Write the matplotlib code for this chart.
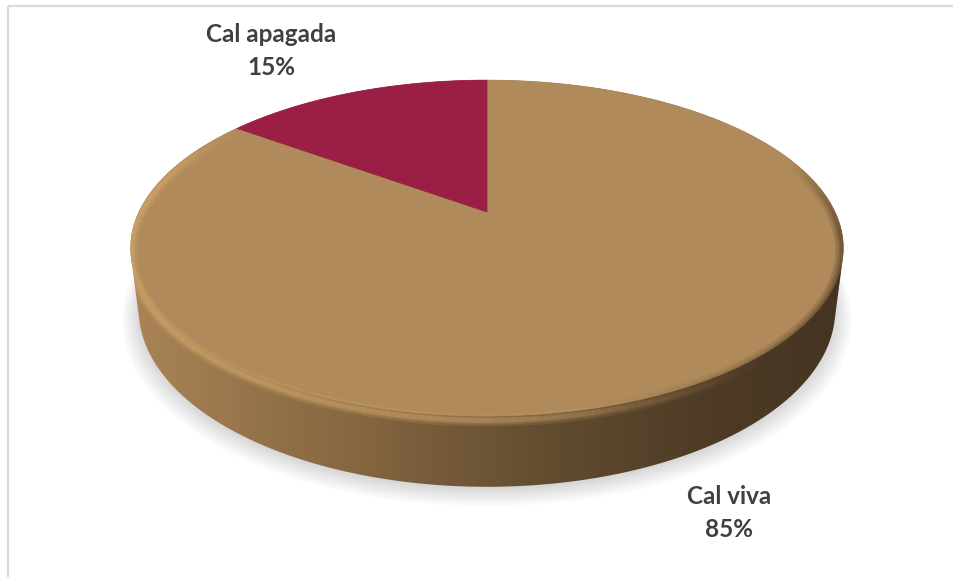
import numpy as np
import matplotlib.pyplot as plt
from matplotlib.patches import Polygon, Rectangle
from matplotlib.collections import LineCollection
from matplotlib.colors import LinearSegmentedColormap

labels = ["Cal viva", "Cal apagada"]
shares = [85, 15]
colors = ["#b08a5a", "#9b1f45"]
label_pos = [(729, 513), (271, 51)]

W, H = 954, 577

# camera looking down on a flat disc of radius 1
ELEV = np.radians(27.4)
DIST = 4.14
SCALE = 1441
CX, CY = 487, 212
THICK = 0.2


def project(x, y, z):
    c, s = np.cos(ELEV), np.sin(ELEV)
    depth = DIST - y * c - z * s
    sx = x / depth
    sy = (z * c - y * s) / depth
    return CX + SCALE * sx, CY - SCALE * sy


def ring(theta, r=1.0, z=0.0):
    x, y = project(r * np.cos(theta), r * np.sin(theta), z)
    return np.column_stack([x, y])


def convex_hull(pts):
    pts = sorted(map(tuple, pts))

    def cross(o, a, b):
        return (a[0] - o[0]) * (b[1] - o[1]) - (a[1] - o[1]) * (b[0] - o[0])

    lower, upper = [], []
    for p in pts:
        while len(lower) >= 2 and cross(lower[-2], lower[-1], p) <= 0:
            lower.pop()
        lower.append(p)
    for p in reversed(pts):
        while len(upper) >= 2 and cross(upper[-2], upper[-1], p) <= 0:
            upper.pop()
        upper.append(p)
    return np.array(lower[:-1] + upper[:-1])


def soft_rim(th_deg, weight, rgb, clip, z=0.0, widths=(9, 6, 3.5), alphas=(0.15, 0.2, 0.3)):
    th = np.radians(th_deg)
    rim = ring(th, z=z)
    segs = np.stack([rim[:-1], rim[1:]], axis=1)
    w = weight[:-1]
    for lw, a in zip(widths, alphas):
        cols = np.zeros((len(w), 4))
        cols[:, :3] = np.array(rgb) / 255
        cols[:, 3] = a * w
        lc = LineCollection(segs, colors=cols, linewidths=lw, zorder=4, capstyle="butt")
        ax.add_collection(lc)
        lc.set_clip_path(clip)


fig = plt.figure(figsize=(W / 100, H / 100), dpi=100)
ax = fig.add_axes([0, 0, 1, 1])
ax.set_xlim(0, W)
ax.set_ylim(H, 0)
ax.axis("off")

# chart area border
ax.add_patch(Rectangle((8, 6), W, H, fill=False, edgecolor="#d9d9d9", lw=1.6, zorder=0))

full = np.linspace(0, 2 * np.pi, 400)

# soft shadow under the disc
for k in range(10):
    pts = ring(full, r=1.0 + 0.005 * k, z=-THICK) + [0, 2 + 0.6 * k]
    ax.add_patch(Polygon(pts, closed=True, facecolor="black", edgecolor="none", alpha=0.014, zorder=1))

# side wall with horizontal shading
hull = convex_hull(np.vstack([ring(full, z=0.0), ring(full, z=-THICK)]))
side = Polygon(hull, closed=True, facecolor="none", edgecolor="none", zorder=2)
ax.add_patch(side)
side_cmap = LinearSegmentedColormap.from_list(
    "side",
    [(0.0, "#aa8455"), (0.3, "#876842"), (0.55, "#664f32"), (0.8, "#4e3c26"), (1.0, "#453421")],
)
grad = np.linspace(0, 1, 256).reshape(1, -1)
im = ax.imshow(grad, extent=(hull[:, 0].min(), hull[:, 0].max(), hull[:, 1].max(), hull[:, 1].min()),
               cmap=side_cmap, aspect="auto", zorder=2)
im.set_clip_path(side)

# top face wedges, clockwise from twelve o'clock
total = sum(shares)
start = -np.pi / 2
for lab, val, col in zip(labels, shares, colors):
    sweep = 2 * np.pi * val / total
    th = np.linspace(start, start + sweep, 200)
    pts = np.vstack([ring(np.array([0.0]), r=0.0), ring(th)])
    ax.add_patch(Polygon(pts, closed=True, facecolor=col, edgecolor=col, lw=0.5, zorder=3))
    start += sweep

# bevel: light edge on the lit side, soft dark edge on the shaded side
t = np.linspace(20, 218, 250)
glow = np.clip((t - 45) / 45, 0, 1) * np.clip((218 - t) / 28, 0, 1)
soft_rim(t, glow, (222, 178, 116), side, z=-0.012)
t = np.linspace(-20, 75, 150)
shade = np.clip((t + 20) / 25, 0, 1) * np.clip((75 - t) / 40, 0, 1)
soft_rim(t, shade, (72, 55, 35), side, z=-0.008, widths=(11, 7, 4), alphas=(0.2, 0.25, 0.3))

# data labels
for lab, val, (lx, ly) in zip(labels, shares, label_pos):
    pct = round(100 * val / total)
    ax.text(lx, ly, f"{lab}\n{pct}%", ha="center", va="center", fontsize=17.5,
            fontweight="bold", color="#404040", family="Lato", linespacing=1.5, zorder=5)

ax.set_xlim(0, W)
ax.set_ylim(H, 0)
fig.savefig("out.png", dpi=100)
